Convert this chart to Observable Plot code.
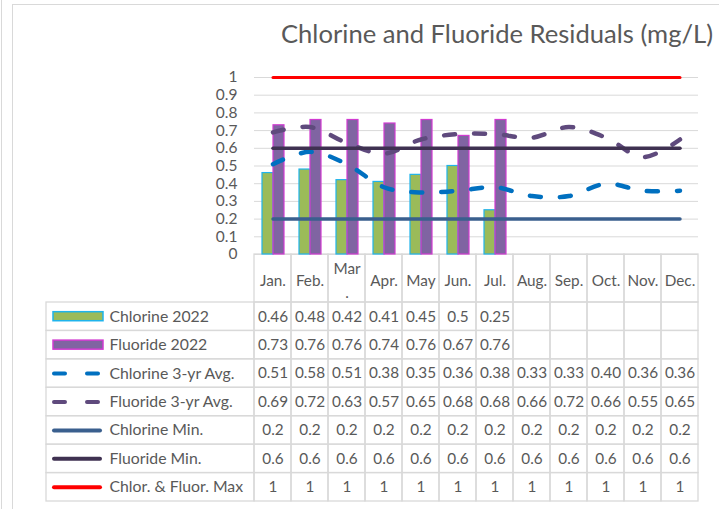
<!DOCTYPE html>
<html>
<head>
<meta charset="utf-8">
<script src="https://cdn.jsdelivr.net/npm/d3@7"></script>
<script src="https://cdn.jsdelivr.net/npm/@observablehq/plot@0.6"></script>
<style>
  html, body { margin: 0; padding: 0; background: #fff; }
  #wrap { position: relative; width: 719px; height: 509px; overflow: hidden; background: #fff; font-family: Lato, "Open Sans", sans-serif; }
  #wrap > svg, #wrap > figure { position: absolute; left: 0; top: 0; margin: 0; }
  #frameA { position: absolute; left: 1px; top: 0; width: 0; height: 509px; border-left: 1px solid #D9D9D9; }
  #frameB { position: absolute; left: 12px; top: 4px; width: 720px; height: 520px; border-left: 1px solid #D9D9D9; border-top: 1px solid #D9D9D9; }
  #title { position: absolute; left: 497px; top: 18px; transform: translateX(-50%); white-space: nowrap; font-size: 25.6px; color: #595959; font-family: Lato, sans-serif; }
</style>
</head>
<body>
<div id="wrap">
  <div id="frameA"></div>
  <div id="frameB"></div>
  <div id="title">Chlorine and Fluoride Residuals (mg/L)</div>
</div>
<script>
const months = ["Jan.","Feb.","Mar.","Apr.","May","Jun.","Jul.","Aug.","Sep.","Oct.","Nov.","Dec."];
const monthLabels = ["Jan.","Feb.","Mar\n.","Apr.","May","Jun.","Jul.","Aug.","Sep.","Oct.","Nov.","Dec."];
const chlorine2022 = [0.46,0.48,0.42,0.41,0.45,0.5,0.25];
const fluoride2022 = [0.73,0.76,0.76,0.74,0.76,0.67,0.76];
const chlorineAvg = [0.51,0.58,0.51,0.38,0.35,0.36,0.38,0.33,0.33,0.40,0.36,0.36];
const fluorideAvg = [0.69,0.72,0.63,0.57,0.65,0.68,0.68,0.66,0.72,0.66,0.55,0.65];
const chlorineMin = [0.2,0.2,0.2,0.2,0.2,0.2,0.2,0.2,0.2,0.2,0.2,0.2];
const fluorideMin = [0.6,0.6,0.6,0.6,0.6,0.6,0.6,0.6,0.6,0.6,0.6,0.6];
const maxLimit = [1,1,1,1,1,1,1,1,1,1,1,1];
const yTicks = [0,0.1,0.2,0.3,0.4,0.5,0.6,0.7,0.8,0.9,1];

const series = [
  {name: "Chlorine 2022", values: chlorine2022, kind: "bar", fill: "#9BBB59", stroke: "#1FB4EC", fmt: d => String(d)},
  {name: "Fluoride 2022", values: fluoride2022, kind: "bar", fill: "#8064A2", stroke: "#D13BD1", fmt: d => String(d)},
  {name: "Chlorine 3-yr Avg.", values: chlorineAvg, kind: "dash", stroke: "#0070C0", width: 4.5, fmt: d => d.toFixed(2)},
  {name: "Fluoride 3-yr Avg.", values: fluorideAvg, kind: "dash", stroke: "#5F4A7D", width: 4.5, fmt: d => d.toFixed(2)},
  {name: "Chlorine Min.", values: chlorineMin, kind: "line", stroke: "#3A5F8E", width: 3.5, fmt: d => String(d)},
  {name: "Fluoride Min.", values: fluorideMin, kind: "line", stroke: "#3F3151", width: 3.5, fmt: d => String(d)},
  {name: "Chlor. & Fluor. Max", values: maxLimit, kind: "line", stroke: "#FF0000", width: 3, fmt: d => String(d)}
];

const toRows = vals => vals.map((v, i) => ({month: months[i], value: v}));
const DASH = "11,19";

// ---------- Chart ----------
const chartMarks = [
  Plot.gridY(yTicks, {stroke: "#D9D9D9", strokeOpacity: 1, strokeWidth: 1}),
  Plot.axisY(yTicks, {tickSize: 0, tickPadding: 17, tickFormat: d => String(d), fontSize: 15.5, fill: "#595959", label: null}),
  Plot.barY(toRows(chlorine2022), {x: "month", y: "value", fill: series[0].fill, stroke: series[0].stroke, strokeWidth: 1.2, insetLeft: 8, insetRight: 18}),
  Plot.barY(toRows(fluoride2022), {x: "month", y: "value", fill: series[1].fill, stroke: series[1].stroke, strokeWidth: 1.2, insetLeft: 19, insetRight: 7})
];
for (const s of series.slice(2)) {
  chartMarks.push(Plot.line(toRows(s.values), {
    x: "month", y: "value", stroke: s.stroke, strokeWidth: s.width,
    strokeDasharray: s.kind === "dash" ? DASH : null,
    strokeLinecap: "round", curve: s.kind === "dash" ? "catmull-rom" : "linear"
  }));
}
const chart = Plot.plot({
  width: 719, height: 509,
  marginLeft: 254, marginRight: 21, marginTop: 77, marginBottom: 255,
  x: {domain: months, padding: 0, axis: null},
  y: {domain: [0, 1], axis: null, label: null},
  style: {fontFamily: "Lato, sans-serif", fontSize: "15px", color: "#595959", background: "transparent", overflow: "visible"},
  marks: chartMarks
});

// ---------- Data table ----------
const L = 208 / 37;           // width of legend column in month-column units
const H = 48 / 28.43;         // height of header row in data-row units
const headerCells = months.map((m, i) => ({x1: i, x2: i + 1, label: monthLabels[i]}));
const bodyCells = [];
const bodyTexts = [];
const legendCells = [];
series.forEach((s, r) => {
  legendCells.push({x1: -L, x2: 0, y1: r, y2: r + 1, r, name: s.name});
  months.forEach((m, i) => {
    bodyCells.push({x1: i, x2: i + 1, y1: r, y2: r + 1});
    if (i < s.values.length) bodyTexts.push({x: i + 0.5, y: r + 0.5, text: s.fmt(s.values[i])});
  });
});

const tableMarks = [
  Plot.rect(headerCells, {x1: "x1", x2: "x2", y1: -H, y2: 0, fill: "none", stroke: "#D9D9D9", strokeWidth: 1.3}),
  Plot.rect(bodyCells, {x1: "x1", x2: "x2", y1: "y1", y2: "y2", fill: "none", stroke: "#D9D9D9", strokeWidth: 1.3}),
  Plot.rect(legendCells, {x1: "x1", x2: "x2", y1: "y1", y2: "y2", fill: "none", stroke: "#D9D9D9", strokeWidth: 1.3}),
  Plot.text(headerCells, {x: d => (d.x1 + d.x2) / 2, y: -H / 2, text: "label", fontSize: 15.3, fill: "#595959", lineHeight: 1.55}),
  Plot.text(bodyTexts, {x: "x", y: "y", text: "text", fontSize: 15.3, fill: "#595959"}),
  Plot.text(legendCells, {x: -L, y: d => d.r + 0.5, text: "name", textAnchor: "start", dx: 63, fontSize: 15.8, fill: "#595959"})
];
series.forEach((s, r) => {
  if (s.kind === "bar") {
    tableMarks.push(Plot.rect([s], {x1: -L, x2: 0, y1: r, y2: r + 1, fill: s.fill, stroke: s.stroke, strokeWidth: 1.5,
      insetLeft: 7, insetRight: 151, insetTop: 9.7, insetBottom: 9.7}));
  } else {
    tableMarks.push(Plot.ruleY([r + 0.5], {x1: -L, x2: 0, stroke: s.stroke, strokeWidth: 4, strokeLinecap: "round",
      strokeDasharray: s.kind === "dash" ? "11,22" : null, insetLeft: 8, insetRight: 154}));
  }
});

const table = Plot.plot({
  width: 719, height: 509,
  marginLeft: 46, marginRight: 21, marginTop: 254, marginBottom: 8,
  x: {domain: [-L, 12], axis: null},
  y: {domain: [-H, 7], range: [254, 501], axis: null},
  style: {fontFamily: "Lato, sans-serif", fontSize: "15px", color: "#595959", background: "transparent", overflow: "visible"},
  marks: tableMarks
});

const wrap = document.getElementById("wrap");
wrap.appendChild(table);
wrap.appendChild(chart);
</script>
</body>
</html>
